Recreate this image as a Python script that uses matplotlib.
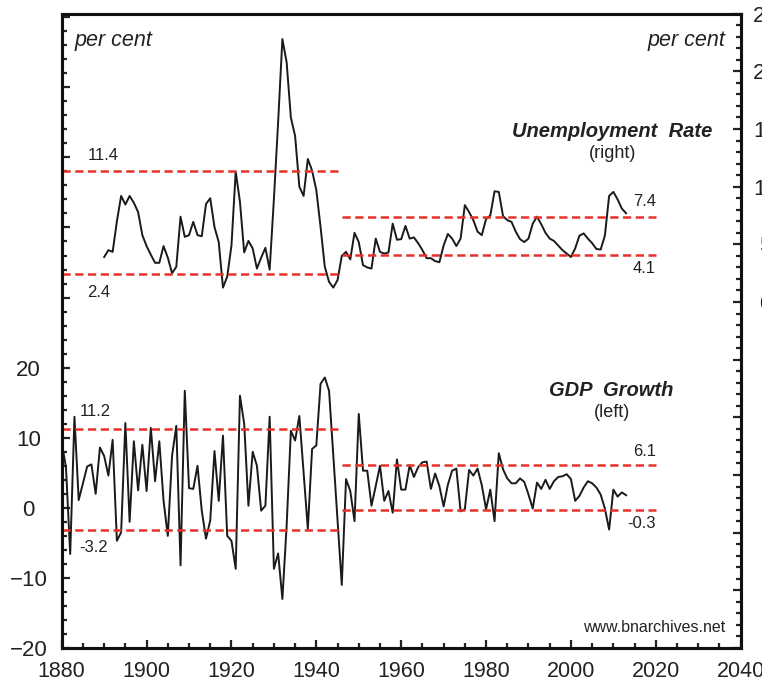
import matplotlib
matplotlib.use('Agg')
import matplotlib.pyplot as plt
from matplotlib.ticker import MultipleLocator

plt.rcParams['font.family'] = ['Liberation Sans', 'DejaVu Sans']

#	-	-	-	-	-	DATA	-	-	-	-	-	#
unemp_start = 1890
unemp = [3.9, 4.5, 4.35, 7.0, 9.2, 8.45, 9.2, 8.6, 7.8, 5.8,
	4.85, 4.1, 3.4, 3.4, 4.85, 3.85, 2.5, 3.05, 7.4, 5.65,
	5.8, 6.95, 5.8, 5.7, 8.5, 9.0, 6.5, 5.2, 1.25, 2.2,
	4.9, 11.3, 8.7, 4.3, 5.3, 4.65, 2.9, 3.85, 4.7, 2.8,
	8.9, 15.6, 22.8, 20.8, 16.0, 14.4, 10.0, 9.2, 12.4, 11.4,
	9.7, 6.5, 3.05, 1.75, 1.25, 1.9, 4.0, 4.35, 3.7, 6.0,
	5.2, 3.2, 3.0, 2.9, 5.5, 4.35, 4.2, 4.3, 6.8, 5.4,
	5.45, 6.6, 5.5, 5.6, 5.1, 4.5, 3.8, 3.8, 3.55, 3.45,
	4.9, 5.9, 5.5, 4.85, 5.5, 8.4, 7.8, 7.1, 6.1, 5.8,
	7.2, 7.5, 9.6, 9.55, 7.45, 7.1, 6.95, 6.1, 5.45, 5.2,
	5.5, 6.8, 7.4, 6.75, 6.0, 5.5, 5.3, 4.9, 4.5, 4.2,
	3.9, 4.65, 5.75, 5.95, 5.5, 5.1, 4.6, 4.55, 5.75, 9.2,
	9.55, 8.9, 8.1, 7.7]

gdp_start = 1880
gdp = [9.3, 5.8, -6.6, 13.0, 1.1, 3.5, 5.9, 6.2, 2.0, 8.6,
	7.4, 4.6, 9.7, -4.7, -3.5, 12.1, -2.0, 9.5, 2.5, 9.0,
	2.4, 11.4, 3.8, 9.5, 1.0, -4.0, 7.4, 11.7, -8.2, 16.7,
	2.8, 2.7, 6.0, -0.4, -4.4, -1.8, 8.1, 1.0, 10.3, -4.0,
	-4.7, -8.7, 16.0, 12.0, 0.3, 8.0, 6.0, -0.4, 0.3, 13.0,
	-8.7, -6.5, -13.0, -2.6, 11.0, 9.6, 13.1, 5.0, -3.0, 8.4,
	8.9, 17.7, 18.6, 16.7, 7.5, -1.5, -11.0, 4.1, 2.4, -1.9,
	13.4, 5.3, 5.3, 0.3, 3.1, 6.0, 1.0, 2.4, -0.7, 6.9,
	2.6, 2.6, 6.1, 4.4, 5.8, 6.5, 6.6, 2.7, 4.9, 3.1,
	0.2, 3.3, 5.3, 5.6, -0.5, -0.2, 5.4, 4.6, 5.6, 3.2,
	-0.2, 2.6, -1.9, 7.8, 5.5, 4.2, 3.5, 3.5, 4.2, 3.7,
	1.9, -0.1, 3.6, 2.7, 4.0, 2.7, 3.8, 4.4, 4.5, 4.8,
	4.1, 1.0, 1.7, 2.9, 3.8, 3.5, 2.9, 1.9, -0.1, -3.1,
	2.6, 1.6, 2.2, 1.8]

unemp_years = list(range(unemp_start, unemp_start + len(unemp)))
gdp_years = list(range(gdp_start, gdp_start + len(gdp)))

#	averages per period: (start, end, value)
unemp_avg = [(1880, 1946, 11.4), (1880, 1946, 2.4), (1946, 2020, 7.4), (1946, 2020, 4.1)]
gdp_avg = [(1880, 1946, 11.2), (1880, 1946, -3.2), (1946, 2020, 6.1), (1946, 2020, -0.3)]

red = '#e8312b'

#	-	-	-	-	-	PLOT	-	-	-	-	-	#
fig = plt.figure(figsize=(7.62, 6.85), dpi=100)
ax = fig.add_axes([0.081, 0.054, 0.891, 0.926])
ax2 = ax.twinx()

ax.plot(gdp_years, gdp, color='#1a1a1a', lw=1.4)
ax2.plot(unemp_years, unemp, color='#1a1a1a', lw=1.4)

for x0, x1, v in gdp_avg:
	ax.plot([x0, x1], [v, v], color=red, lw=1.8, dashes=(3.3, 1.8))
for x0, x1, v in unemp_avg:
	ax2.plot([x0, x1], [v, v], color=red, lw=1.8, dashes=(3.3, 1.8))

ax.set_xlim(1880, 2040)
ax.set_ylim(-20, 70.5)
ax2.set_ylim(-30, 24.85)

ax.xaxis.set_major_locator(MultipleLocator(20))
ax.xaxis.set_minor_locator(MultipleLocator(5))
ax.yaxis.set_minor_locator(MultipleLocator(2))
ax2.yaxis.set_minor_locator(MultipleLocator(1))

lticks = list(range(-20, 71, 10))
ax.set_yticks(lticks)
ax.set_yticklabels([('\u2212' + str(-t)) if t < 0 else str(t) if t <= 20 else '' for t in lticks], ha='center')
rticks = list(range(-30, 26, 5))
ax2.set_yticks(rticks)
ax2.set_yticklabels([str(t) if t >= 0 else '' for t in rticks], ha='center')

for a in (ax, ax2):
	a.tick_params(which='both', direction='in', labelsize=16, colors='#222222', width=1.6)
	a.tick_params(which='major', length=6)
	a.tick_params(which='minor', length=3.5)
	for s in a.spines.values():
		s.set_linewidth(2.2)
		s.set_color('#111111')
ax.tick_params(axis='y', pad=24)
ax.tick_params(axis='x', pad=9, labelsize=15.5)
ax2.tick_params(axis='y', pad=18)

#	-	-	-	-	-	TEXT	-	-	-	-	-	#
tc = '#222222'
ax.text(0.019, 0.975, 'per cent', transform=ax.transAxes, fontsize=15.5, style='italic', color=tc, va='top')
ax.text(0.978, 0.975, 'per cent', transform=ax.transAxes, fontsize=15.5, style='italic', color=tc, va='top', ha='right')
ax.text(0.958, 0.815, 'Unemployment  Rate', transform=ax.transAxes, fontsize=14.5, style='italic', weight='bold', color=tc, ha='right', va='center')
ax.text(0.811, 0.779, '(right)', transform=ax.transAxes, fontsize=13, color=tc, ha='center', va='center')
ax.text(0.901, 0.406, 'GDP  Growth', transform=ax.transAxes, fontsize=14.5, style='italic', weight='bold', color=tc, ha='right', va='center')
ax.text(0.811, 0.372, '(left)', transform=ax.transAxes, fontsize=13, color=tc, ha='center', va='center')

ax2.text(1886.1, 11.4 + 1.3, '11.4', fontsize=12, color=tc, va='center')
ax2.text(1886.1, 2.4 - 1.6, '2.4', fontsize=12, color=tc, va='center')
ax2.text(2020, 7.4 + 1.3, '7.4', fontsize=12, color=tc, va='center', ha='right')
ax2.text(2020, 4.1 - 1.2, '4.1', fontsize=12, color=tc, va='center', ha='right')
ax.text(1884.2, 11.2 + 2.5, '11.2', fontsize=12, color=tc, va='center')
ax.text(1884.2, -3.2 - 2.5, '-3.2', fontsize=12, color=tc, va='center')
ax.text(2020, 6.1 + 2.0, '6.1', fontsize=12, color=tc, va='center', ha='right')
ax.text(2020, -0.3 - 2.0, '-0.3', fontsize=12, color=tc, va='center', ha='right')

ax.text(0.978, 0.033, 'www.bnarchives.net', transform=ax.transAxes, fontsize=11.5, color=tc, ha='right', va='center')

fig.savefig('out.png', dpi=100)
